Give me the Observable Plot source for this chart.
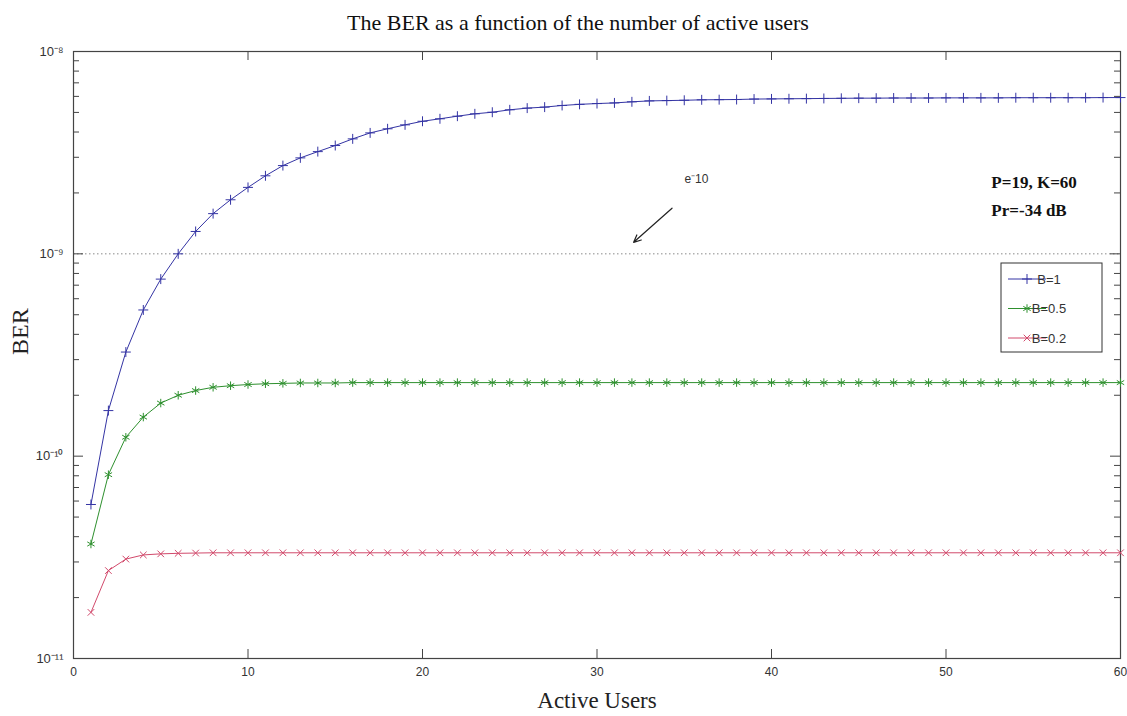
<!DOCTYPE html>
<html><head><meta charset="utf-8">
<script src="https://cdn.jsdelivr.net/npm/d3@7"></script>
<script src="https://cdn.jsdelivr.net/npm/@observablehq/plot@0.6"></script>
<style>body{margin:0;background:#fff}</style>
</head><body><div id="chart"></div>
<script>
// ---- data ----
const users = d3.range(1, 61);
const seriesNames = ["B=1", "B=0.5", "B=0.2"];
const seriesColors = ["#3434a4", "#2e902e", "#d24a6c"];
const seriesSymbols = ["plus", "asterisk", "times"];
const berB1 = [
  5.77e-11, 1.68e-10, 3.27e-10, 5.28e-10, 7.5e-10, 1.0e-9, 1.29e-9, 1.58e-9, 1.85e-9, 2.13e-9,
  2.43e-9, 2.73e-9, 2.98e-9, 3.20e-9, 3.43e-9, 3.70e-9, 3.96e-9, 4.15e-9, 4.34e-9, 4.52e-9,
  4.65e-9, 4.79e-9, 4.92e-9, 5.01e-9, 5.15e-9, 5.25e-9, 5.31e-9, 5.41e-9, 5.48e-9, 5.53e-9,
  5.57e-9, 5.64e-9, 5.70e-9, 5.72e-9, 5.74e-9, 5.77e-9, 5.78e-9, 5.79e-9, 5.82e-9, 5.83e-9,
  5.84e-9, 5.85e-9, 5.86e-9, 5.87e-9, 5.88e-9, 5.88e-9, 5.89e-9, 5.89e-9, 5.89e-9, 5.90e-9,
  5.90e-9, 5.90e-9, 5.90e-9, 5.91e-9, 5.91e-9, 5.91e-9, 5.91e-9, 5.91e-9, 5.92e-9, 5.92e-9
];
const berB05 = [
  3.68e-11, 8.1e-11, 1.24e-10, 1.56e-10, 1.83e-10, 2.0e-10, 2.11e-10, 2.19e-10, 2.23e-10, 2.26e-10,
  2.28e-10, 2.29e-10, 2.30e-10, 2.30e-10, 2.30e-10, 2.31e-10, 2.31e-10, 2.31e-10, 2.31e-10, 2.31e-10,
  2.31e-10, 2.31e-10, 2.31e-10, 2.31e-10, 2.31e-10, 2.31e-10, 2.31e-10, 2.31e-10, 2.31e-10, 2.31e-10,
  2.31e-10, 2.31e-10, 2.31e-10, 2.31e-10, 2.31e-10, 2.31e-10, 2.31e-10, 2.31e-10, 2.31e-10, 2.31e-10,
  2.31e-10, 2.31e-10, 2.31e-10, 2.31e-10, 2.31e-10, 2.31e-10, 2.31e-10, 2.31e-10, 2.31e-10, 2.31e-10,
  2.31e-10, 2.31e-10, 2.31e-10, 2.31e-10, 2.31e-10, 2.31e-10, 2.31e-10, 2.31e-10, 2.31e-10, 2.31e-10
];
const berB02 = [
  1.69e-11, 2.72e-11, 3.10e-11, 3.25e-11, 3.29e-11, 3.31e-11, 3.32e-11, 3.33e-11, 3.33e-11, 3.33e-11,
  3.33e-11, 3.33e-11, 3.33e-11, 3.33e-11, 3.33e-11, 3.33e-11, 3.33e-11, 3.33e-11, 3.33e-11, 3.33e-11,
  3.33e-11, 3.33e-11, 3.33e-11, 3.33e-11, 3.33e-11, 3.33e-11, 3.33e-11, 3.33e-11, 3.33e-11, 3.33e-11,
  3.33e-11, 3.33e-11, 3.33e-11, 3.33e-11, 3.33e-11, 3.33e-11, 3.33e-11, 3.33e-11, 3.33e-11, 3.33e-11,
  3.33e-11, 3.33e-11, 3.33e-11, 3.33e-11, 3.33e-11, 3.33e-11, 3.33e-11, 3.33e-11, 3.33e-11, 3.33e-11,
  3.33e-11, 3.33e-11, 3.33e-11, 3.33e-11, 3.33e-11, 3.33e-11, 3.33e-11, 3.33e-11, 3.33e-11, 3.33e-11
];
const xTicks = [0, 10, 20, 30, 40, 50, 60];
const yTicks = [1e-11, 1e-10, 1e-9, 1e-8];
const yTickLabels = ["10⁻¹¹", "10⁻¹⁰", "10⁻⁹", "10⁻⁸"];
const threshold = 1e-9;
const titleText = "The BER as a function of the number of active users";
const xLabel = "Active Users";
const yLabel = "BER";
const arrowNote = {x1: 34.3, y1: 1.68e-9, x2: 32.1, y2: 1.14e-9, label: "e⁻10", lx: 35.7, ly: 2.35e-9};
const paramNotes = [
  {x: 52.6, y: 2.25e-9, text: "P=19, K=60"},
  {x: 52.6, y: 1.64e-9, text: "Pr=-34 dB"}
];

// ---- build table ----
const allSeries = [berB1, berB05, berB02];
const rows = [];
allSeries.forEach((vals, i) => vals.forEach((v, j) => rows.push({users: users[j], ber: v, series: seriesNames[i]})));
const minorY = [];
for (let e = -11; e < -8; e++) for (let m = 2; m <= 9; m++) minorY.push(m * Math.pow(10, e));

const W = 1127, H = 716;
const mL = 73, mR = 7, mT = 51, mB = 58;
const pw = W - mL - mR, ph = H - mT - mB;
const frameColor = "#444";
const tickFont = "Liberation Sans, Arial, sans-serif";
const serif = "Liberation Serif, Times New Roman, serif";
const markerR = [3.3, 4.0, 3.1];

const dotMarks = seriesNames.map((name, i) =>
  Plot.dot(rows.filter(d => d.series === name), {
    x: "users", y: "ber", symbol: () => seriesSymbols[i], stroke: seriesColors[i], fill: "none",
    r: markerR[i], strokeWidth: 1
  })
);

const chart = Plot.plot({
  width: W, height: H,
  marginLeft: mL, marginRight: mR, marginTop: mT, marginBottom: mB,
  style: {fontFamily: tickFont, background: "#fff"},
  x: {domain: [0, 60]},
  y: {type: "log", domain: [1e-11, 1e-8]},
  symbol: {type: "identity"},
  marks: [
    Plot.ruleY([threshold], {stroke: "#8a8a8a", strokeDasharray: "1.5,2.5"}),
    // inward tick marks
    Plot.tickY(yTicks, {y: d => d, stroke: frameColor, insetRight: pw - 10}),
    Plot.tickY(yTicks, {y: d => d, stroke: frameColor, insetLeft: pw - 10}),
    Plot.tickY(minorY, {y: d => d, stroke: frameColor, insetRight: pw - 6}),
    Plot.tickY(minorY, {y: d => d, stroke: frameColor, insetLeft: pw - 6}),
    Plot.tickX(xTicks, {x: d => d, stroke: frameColor, insetTop: ph - 9}),
    Plot.tickX(xTicks, {x: d => d, stroke: frameColor, insetBottom: ph - 9}),
    Plot.frame({stroke: frameColor, strokeWidth: 1.2}),
    Plot.line(rows, {x: "users", y: "ber", z: "series", stroke: d => seriesColors[seriesNames.indexOf(d.series)], strokeWidth: 1}),
    ...dotMarks,
    Plot.arrow([arrowNote], {x1: "x1", y1: "y1", x2: "x2", y2: "y2", stroke: "#222", strokeWidth: 1.2, headLength: 10, headAngle: 50}),
    Plot.text([arrowNote], {x: "lx", y: "ly", text: "label", fontSize: 12, fill: "#333", fontFamily: tickFont}),
    Plot.text(paramNotes, {x: "x", y: "y", text: "text", textAnchor: "start", fontSize: 17, fontWeight: "bold", fill: "#111", fontFamily: serif}),
    Plot.axisX(xTicks, {tickSize: 0, tickPadding: 9, fontSize: 12, fill: "#333", label: null}),
    Plot.axisY(yTicks, {tickSize: 0, tickPadding: 10, fontSize: 13, fill: "#333", label: null,
      tickFormat: d => yTickLabels[yTicks.indexOf(d)]}),
    Plot.text([titleText], {frameAnchor: "top", dx: -19, dy: -29, lineAnchor: "middle", fontSize: 22, fill: "#111", fontFamily: serif}),
    Plot.text([xLabel], {frameAnchor: "bottom", dy: 42, lineAnchor: "middle", fontSize: 23, fill: "#222", fontFamily: serif}),
    Plot.text([yLabel], {frameAnchor: "left", dx: -53, rotate: -90, lineAnchor: "middle", fontSize: 24, fill: "#222", fontFamily: serif})
  ]
});
document.getElementById("chart").appendChild(chart);

// ---- legend inside the plot (top-right area) ----
const svg = d3.select(chart);
const lg = svg.append("g").attr("transform", "translate(1001,263)");
lg.append("rect").attr("width", 101).attr("height", 89).attr("fill", "#fff").attr("stroke", "#333").attr("stroke-width", 1);
const d3Syms = [d3.symbolPlus, d3.symbolAsterisk, d3.symbolTimes];
seriesNames.forEach((name, i) => {
  const y = 16 + i * 29.5;
  lg.append("line").attr("x1", 7).attr("x2", 45).attr("y1", y).attr("y2", y).attr("stroke", seriesColors[i]).attr("stroke-width", 1);
  const sym = d3.symbol(d3Syms[i], Math.PI * markerR[i] * markerR[i]);
  lg.append("path").attr("d", sym()).attr("transform", `translate(26,${y})`).attr("fill", "none").attr("stroke", seriesColors[i]);
  lg.append("text").attr("x", 48).attr("y", y).attr("dy", "0.35em").attr("font-size", 13).attr("fill", "#333")
    .attr("font-family", tickFont).text(name);
});
</script>
</body></html>
